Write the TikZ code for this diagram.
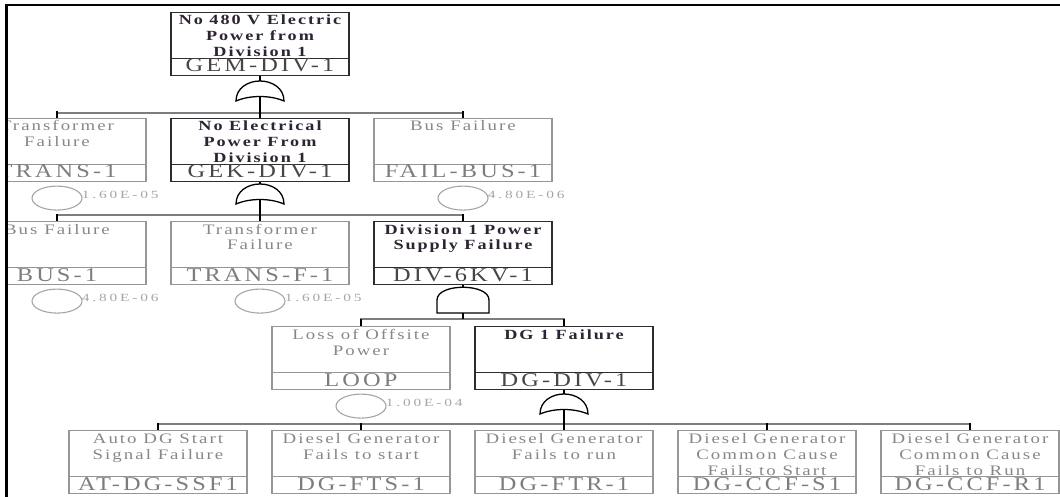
\documentclass[tikz,border=0pt]{standalone}
\usepackage{fontspec}
\setmainfont{Liberation Serif}
\newfontfamily\descfont[FakeStretch=1.3,LetterSpace=14]{Liberation Serif}
\newfontfamily\idfont[FakeStretch=1.25,LetterSpace=16]{Liberation Serif}
\newfontfamily\probfont[FakeStretch=1.4,LetterSpace=26]{Liberation Serif}
\usetikzlibrary{calc,shapes.geometric}
\definecolor{evline}{RGB}{150,150,150}
\definecolor{evtext}{RGB}{135,135,135}
\definecolor{evid}{RGB}{125,125,125}
\definecolor{gtline}{RGB}{45,45,45}
\definecolor{gttext}{RGB}{45,35,50}
\definecolor{gtid}{RGB}{70,70,70}
\definecolor{probc}{RGB}{165,165,165}
\definecolor{barc}{RGB}{125,125,125}
\tikzset{
  evbox/.style={draw=evline, line width=1.1pt, minimum width=178pt, minimum height=63pt, inner sep=0pt, anchor=north},
  gtbox/.style={draw=gtline, line width=1.4pt, minimum width=178pt, minimum height=63pt, inner sep=0pt, anchor=north},
  evsep/.style={draw=evline, line width=1.1pt},
  gtsep/.style={draw=gtline, line width=1.4pt},
  evdesc/.style={text=evtext, font=\descfont\fontsize{14.5}{16}\selectfont, anchor=base, inner sep=0pt},
  gtdesc/.style={text=gttext, font=\descfont\bfseries\fontsize{14}{16}\selectfont, anchor=base, inner sep=0pt},
  evidt/.style={text=evid, font=\idfont\fontsize{19.5}{20}\selectfont, anchor=base, inner sep=0pt},
  gtidt/.style={text=gtid, font=\idfont\fontsize{19.5}{20}\selectfont, anchor=base, inner sep=0pt},
  gateshape/.style={draw=black, line width=1.3pt},
  bar/.style={draw=barc, line width=1.4pt},
  tick/.style={draw=black, line width=1.4pt},
  basicell/.style={draw=probc, line width=1.1pt, ellipse, minimum width=50pt, minimum height=24pt, inner sep=0pt},
  problbl/.style={text=probc, font=\probfont\fontsize{11}{12}\selectfont, anchor=west, inner sep=0pt},
}
% name, cx, top, kind (ev/gt), description lines, id
\newcommand\ftbox[6]{%
  \node[#4box] (#1) at (#2,#3) {};
  \draw[#4sep] ([yshift=18pt]#1.south west) -- ([yshift=18pt]#1.south east);
  \foreach \lineTxt [count=\i] in {#5} {\node[#4desc] (#1-d\i) at (#2,{#3+13+16*(\i-1)}) {\lineTxt};}
  \node[#4idt] (#1-id) at (#2,#3+60) {#6};
}
% basic event circle and probability
\newcommand\basicev[2]{%
  \node[basicell] (#1-e) at ($(#1.south)+(0,16)$) {};
  \node[problbl] (#1-p) at ($(#1-e.east)+(-1,-3)$) {#2};
}
% OR gate: name, cx, apex y
\newcommand\orgate[3]{%
  \coordinate (#1-in) at (#2,#3);
  \coordinate (#1-out) at (#2,#3+15);
  \draw[gateshape] (#2-24,#3+20) .. controls (#2-24,#3+7) and (#2-12,#3) .. (#1-in)
     .. controls (#2+12,#3) and (#2+24,#3+7) .. (#2+24,#3+20)
     .. controls (#2+10,#3+14) and (#2-10,#3+14) .. cycle;
}
% AND gate: name, cx, top y
\newcommand\andgate[3]{%
  \coordinate (#1-in) at (#2,#3);
  \coordinate (#1-out) at (#2,#3+26);
  \draw[gateshape] (#2-26,#3+26) -- (#2-26,#3+13)
     .. controls (#2-26,#3-4) and (#2+26,#3-4) .. (#2+26,#3+13) -- (#2+26,#3+26) -- cycle;
}
\begin{document}
\begin{tikzpicture}[x=1pt,y=-1pt]
\useasboundingbox (0,0) rectangle (1060,497);
\begin{scope}
\clip (7.6,6.3) rectangle (1060,497);
% boxes
\ftbox{gem}{260}{12}{gt}{No 480 V Electric,Power from,Division 1}{GEM-DIV-1}
\ftbox{trans1}{57}{118}{ev}{Transformer,Failure}{TRANS-1}
\ftbox{gek}{260}{118}{gt}{No Electrical,Power From,Division 1}{GEK-DIV-1}
\ftbox{failbus}{463}{118}{ev}{Bus Failure}{FAIL-BUS-1}
\ftbox{bus1}{57}{221}{ev}{Bus Failure}{BUS-1}
\ftbox{transf1}{260}{221}{ev}{Transformer,Failure}{TRANS-F-1}
\ftbox{div}{463}{221}{gt}{Division 1 Power,Supply Failure}{DIV-6KV-1}
\ftbox{loop}{361}{326}{ev}{Loss of Offsite,Power}{LOOP}
\ftbox{dgdiv}{564}{326}{gt}{DG 1 Failure}{DG-DIV-1}
\ftbox{atdg}{158}{430}{ev}{Auto DG Start,Signal Failure}{AT-DG-SSF1}
\ftbox{dgfts}{361}{430}{ev}{Diesel Generator,Fails to start}{DG-FTS-1}
\ftbox{dgftr}{564}{430}{ev}{Diesel Generator,Fails to run}{DG-FTR-1}
\ftbox{dgccfs}{767}{430}{ev}{Diesel Generator,Common Cause,Fails to Start}{DG-CCF-S1}
\ftbox{dgccfr}{970}{430}{ev}{Diesel Generator,Common Cause,Fails to Run}{DG-CCF-R1}
% basic event circles
\basicev{trans1}{1.60E-05}
\basicev{failbus}{4.80E-06}
\basicev{bus1}{4.80E-06}
\basicev{transf1}{1.60E-05}
\basicev{loop}{1.00E-04}
% gates
\orgate{g1}{260}{81}
\orgate{g2}{260}{184}
\andgate{g3}{463}{287}
\orgate{g4}{564}{394}
% bars
\coordinate (b1) at (260,113);
\coordinate (b2) at (260,215);
\coordinate (b3) at (463,319);
\coordinate (b4) at (564,424);
\draw[bar] (trans1.north) |- (b1) -| (failbus.north);
\draw[bar] (bus1.north) |- (b2) -| (div.north);
\draw[bar] (loop.north) |- (b3) -| (dgdiv.north);
\draw[bar] (atdg.north) |- (b4) -| (dgccfr.north);
\draw[bar] (dgfts.north) -- (dgfts.north |- b4);
\draw[bar] (dgccfs.north) -- (dgccfs.north |- b4);
% connectors
\draw[tick] (gem.south) -- (g1-in);
\draw[tick] (g1-out) -- (gek.north);
\draw[tick] (gek.south) -- (g2-in);
\draw[tick] (g2-out) -- (transf1.north);
\draw[tick] (div.south) -- (g3-in);
\draw[tick] (g3-out) -- (b3);
\draw[tick] (dgdiv.south) -- (g4-in);
\draw[tick] (g4-out) -- (dgftr.north);
\foreach \nm in {trans1,failbus,bus1,div,loop,dgdiv,atdg,dgfts,dgccfs,dgccfr}
  {\draw[tick] (\nm.north) -- ++(0,-7);}
\end{scope}
% frame
\draw[line width=2.6pt] (6.3,497) -- (6.3,5) -- (1060,5);
\end{tikzpicture}
\end{document}
